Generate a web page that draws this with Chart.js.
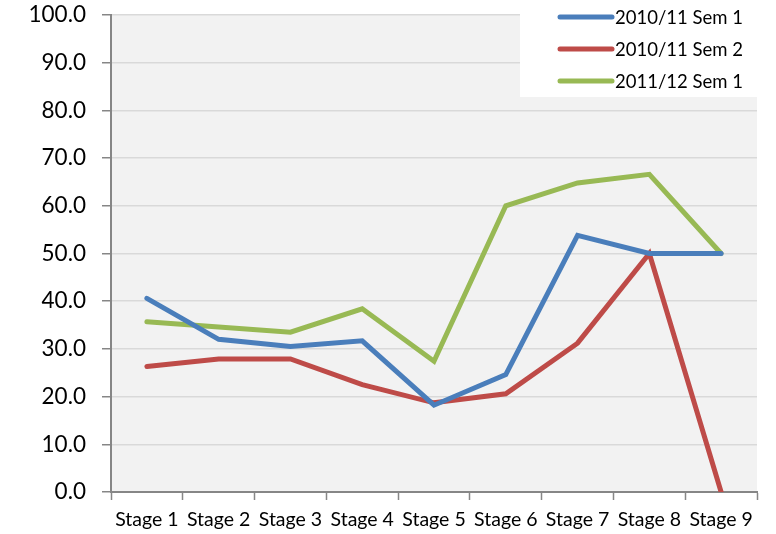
<!DOCTYPE html>
<html lang="en">
<head>
    <meta charset="UTF-8">
    <title>Stage chart</title>
    <script src="https://cdn.jsdelivr.net/npm/chart.js"></script>
    <style>
        html, body {
            margin: 0;
            padding: 0;
            background: #ffffff;
        }
        #chartContainer {
            width: 776px;
            height: 534px;
            position: relative;
        }
    </style>
</head>
<body>

    <div id="chartContainer">
        <canvas id="myChart"></canvas>
    </div>

    <script>
        // Dados
        const stages = ['Stage 1', 'Stage 2', 'Stage 3', 'Stage 4', 'Stage 5', 'Stage 6', 'Stage 7', 'Stage 8', 'Stage 9'];
        const seriesNames = ['2010/11 Sem 1', '2010/11 Sem 2', '2011/12 Sem 1'];
        const sem1_1011 = [40.6, 32.0, 30.5, 31.7, 18.2, 24.6, 53.8, 50.0, 50.0];
        const sem2_1011 = [26.3, 27.9, 27.9, 22.5, 18.7, 20.6, 31.2, 50.0, 0.0];
        const sem1_1112 = [35.7, 34.6, 33.5, 38.4, 27.4, 60.0, 64.8, 66.6, 50.0];
        const yTicks = [0, 10, 20, 30, 40, 50, 60, 70, 80, 90, 100];

        const colors = ['#4a7ebb', '#be4b48', '#98b954'];
        const FONT = 'Lato, "Open Sans", sans-serif';

        // fundo cinza da área do gráfico
        const plotBackground = {
            id: 'plotBackground',
            beforeDraw(chart) {
                const { ctx, chartArea } = chart;
                ctx.save();
                ctx.fillStyle = '#f2f2f2';
                ctx.fillRect(chartArea.left, chartArea.top, chartArea.right - chartArea.left, chartArea.bottom - chartArea.top);
                ctx.restore();
            }
        };

        // legenda no canto superior direito, em caixa branca
        const boxLegend = {
            id: 'boxLegend',
            afterDraw(chart) {
                const ctx = chart.ctx;
                ctx.save();
                ctx.fillStyle = '#ffffff';
                ctx.fillRect(520, 0, 237, 97);
                ctx.font = '18.5px ' + FONT;
                ctx.textBaseline = 'middle';
                chart.data.datasets.forEach((ds, i) => {
                    const y = 17 + i * 32;
                    ctx.strokeStyle = ds.borderColor;
                    ctx.lineWidth = 5;
                    ctx.lineCap = 'round';
                    ctx.beginPath();
                    ctx.moveTo(560, y);
                    ctx.lineTo(612, y);
                    ctx.stroke();
                    ctx.fillStyle = '#000000';
                    ctx.fillText(ds.label, 615, y + 1);
                });
                ctx.restore();
            }
        };

        const ctx = document.getElementById('myChart').getContext('2d');
        const myChart = new Chart(ctx, {
            type: 'line',
            data: {
                labels: stages,
                datasets: [sem1_1011, sem2_1011, sem1_1112].map((values, i) => ({
                    label: seriesNames[i],
                    data: values,
                    borderColor: colors[i],
                    backgroundColor: colors[i],
                    borderWidth: 5,
                    borderCapStyle: 'round',
                    borderJoinStyle: 'miter',
                    pointRadius: 0,
                    tension: 0
                }))
            },
            options: {
                responsive: true,
                maintainAspectRatio: false,
                animation: false,
                layout: {
                    padding: { top: 15, right: 19, left: 0, bottom: 0 }
                },
                plugins: {
                    legend: { display: false },
                    tooltip: { enabled: false }
                },
                scales: {
                    x: {
                        offset: true,
                        grid: {
                            offset: true,
                            drawOnChartArea: false,
                            drawTicks: true,
                            tickLength: 8,
                            tickColor: '#868686',
                            tickWidth: 1.5
                        },
                        border: { color: '#868686', width: 2 },
                        ticks: {
                            color: '#000000',
                            font: { family: FONT, size: 19.5 },
                            padding: 8,
                            maxRotation: 0,
                            autoSkip: false
                        },
                        afterFit(scale) {
                            scale.height = 42;
                        }
                    },
                    y: {
                        min: 0,
                        max: 100,
                        afterBuildTicks(scale) {
                            scale.ticks = yTicks.map(v => ({ value: v }));
                        },
                        grid: {
                            color: '#d9d9d9',
                            lineWidth: 1.5,
                            tickLength: 9,
                            tickColor: '#868686',
                            tickWidth: 1.5
                        },
                        border: { color: '#868686', width: 2 },
                        ticks: {
                            color: '#000000',
                            font: { family: FONT, size: 22.5 },
                            padding: 16,
                            callback: v => Number(v).toFixed(1)
                        },
                        afterFit(scale) {
                            scale.width = 111;
                            scale.paddingTop = 0;
                            scale.paddingBottom = 0;
                        }
                    }
                }
            },
            plugins: [plotBackground, boxLegend]
        });
    </script>

</body>
</html>
